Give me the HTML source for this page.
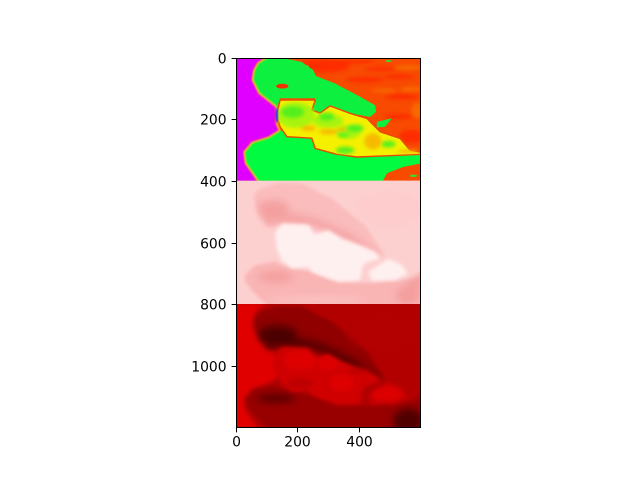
<!DOCTYPE html>
<html>
<head>
<meta charset="utf-8">
<style>
html,body{margin:0;padding:0;background:#fff;width:640px;height:480px;overflow:hidden}
svg{display:block}
text{font-family:"DejaVu Sans","Liberation Sans",sans-serif;font-size:13.9px;fill:#000}
</style>
</head>
<body>
<svg id="chart" width="640" height="480" viewBox="0 0 640 480" xmlns="http://www.w3.org/2000/svg">
<defs>
<clipPath id="clip-top"><rect x="236" y="58" width="184.5" height="122.7"/></clipPath>
<clipPath id="clip-mid"><rect x="236" y="180.7" width="184.5" height="123.3"/></clipPath>
<clipPath id="clip-bot"><rect x="236" y="304" width="184.5" height="123.5"/></clipPath>
<filter id="blur-crisp" x="-10%" y="-10%" width="120%" height="120%"><feGaussianBlur stdDeviation="0.35"/></filter>
<filter id="blur-sharp" x="-10%" y="-10%" width="120%" height="120%"><feGaussianBlur stdDeviation="0.8"/></filter>
<filter id="blur-soft" x="-20%" y="-20%" width="140%" height="140%"><feGaussianBlur stdDeviation="1.8"/></filter>
<filter id="blur-wide" x="-30%" y="-30%" width="160%" height="160%"><feGaussianBlur stdDeviation="3.8"/></filter>
</defs>
<rect width="640" height="480" fill="#fff"/>
<g id="image"></g>
<g id="axes"></g>
</svg>
<script>
// Axis tick values
const xTicks = [0, 200, 400];
const yTicks = [0, 200, 400, 600, 800, 1000];

// Regions in image pixel coordinates; mouth regions are relative to the panel top
const faceEdge = [[-5,-5],[100,-5],[70,15],[57,39],[52,71],[74,115],[128,158],[128,207],[139,234],[106,255],[52,272],[25,304],[30,342],[74,405],[-5,405]];
const upperLip = [[57,51],[74,26],[138,4],[214,6],[312,56],[420,143],[485,245],[398,205],[301,154],[247,141],[144,137],[106,148],[74,110]];
const lipShadow = [[74,105],[160,94],[268,121],[376,170],[485,251],[398,213],[322,186],[247,148],[138,137],[106,148]];
const lowerLip = [[30,305],[63,273],[128,260],[149,273],[247,294],[333,327],[441,329],[571,318],[605,289],[605,405],[106,405],[57,359],[32,327]];
const teethMain = [[128,164],[151,137],[236,141],[255,173],[301,159],[344,186],[398,206],[452,229],[468,251],[420,264],[409,283],[404,321],[333,325],[290,311],[247,294],[236,278],[182,283],[149,256],[133,219]];
const teethRight = [[431,294],[496,251],[539,273],[558,300],[517,321],[441,322]];

const greenUpper = [[-5,-5],[128,-5],[214,12],[252,39],[260,58],[322,82],[404,125],[452,153],[456,174],[436,191],[371,179],[306,155],[274,190],[240,180],[258,130],[144,130],[128,180],[-5,180]];
const greenLower = [[-5,234],[139,234],[250,245],[300,300],[485,312],[600,310],[605,341],[544,353],[491,374],[474,405],[-5,405]];
const greenIsland = [[458,207],[507,195],[485,223],[458,225]];
const centralRegion = [[144,136],[258,136],[247,169],[274,178],[306,155],[371,179],[426,196],[469,239],[534,261],[566,299],[605,306],[605,312],[491,317],[393,321],[328,312],[258,293],[247,260],[166,255],[144,223],[133,185]];

// Ellipses: centre x, centre y, radius x, radius y
const hotPatches = [[280,25,90,22],[420,70,60,9],[540,125,55,9],[470,35,50,7],[570,255,40,22],[530,60,50,7],[390,10,60,6],[530,190,50,8]];
const warmPatches = [[560,30,45,8],[570,100,35,8],[480,105,40,6],[590,170,20,25]];
const redIsland = [[151,91,20,8]];
const limePatches = [[195,185,62,42],[300,205,50,22],[365,240,40,22]];
const greenPatches = [[185,175,38,20],[295,190,27,14],[387,228,28,13],[349,250,20,8],[355,299,30,12],[495,279,24,11]];
const orangePatches = [[236,228,24,9],[301,239,30,9],[344,232,15,6],[445,270,28,26],[560,303,35,6]];
const smallGreen = [[577,382,12,4],[496,9,10,3],[225,26,12,4]];
const blueEdge = [[133,185,4,25]];

const midDark = [[120,85,50,25],[560,370,40,30],[130,310,55,18],[590,330,35,15]];
const midLight = [[260,385,170,10],[500,90,110,60]];
const botDark = [[135,95,62,28],[560,378,50,42],[130,305,65,12]];
const botMid = [[480,90,120,60]];
const botBright = [[210,180,52,32],[345,255,38,28],[300,190,32,22],[490,290,48,22]];
const botDim = [[210,255,45,18],[400,215,35,12]];

const panelTop = 58, pxPerUnit = 369.6 / 1200, axesLeft = 235.6;
const xScale = v => axesLeft + (v + 0.5) * pxPerUnit;
const yScale = v => panelTop + (v + 0.5) * pxPerUnit;
const NS = 'http://www.w3.org/2000/svg';
const imageGroup = document.getElementById('image');
const axesGroup = document.getElementById('axes');

function make(tag, attrs, parent) {
  const el = document.createElementNS(NS, tag);
  for (const k in attrs) el.setAttribute(k, attrs[k]);
  parent.appendChild(el);
  return el;
}
function layer(name, filter, clip) {
  const outer = make('g', {'clip-path': 'url(#' + clip + ')'}, imageGroup);
  const g = make('g', {filter: 'url(#' + filter + ')'}, outer);
  
  
  return g;
}
function poly(parent, pts, offset, fill, stroke, sw, opacity) {
  const p = pts.map(q => xScale(q[0]).toFixed(1) + ',' + yScale(q[1] + offset).toFixed(1)).join(' ');
  const el = make('polygon', {points: p, fill: fill}, parent);
  if (stroke) { el.setAttribute('stroke', stroke); el.setAttribute('stroke-width', sw); el.setAttribute('stroke-linejoin', 'round'); }
  if (opacity) el.setAttribute('opacity', opacity);
  
  
  return el;
}
function blobs(parent, list, offset, fill, opacity) {
  list.forEach(b => {
    const el = make('ellipse', {
      cx: xScale(b[0]), cy: yScale(b[1] + offset),
      rx: b[2] * pxPerUnit, ry: b[3] * pxPerUnit,
      fill: fill, opacity: opacity
    }, parent);
    
    
  });
}
function panelBackground(offset, fill, clip) {
  const outer = make('g', {'clip-path': 'url(#' + clip + ')'}, imageGroup);
  const el = make('rect', {x: 230, y: yScale(offset) - 5, width: 200, height: 135, fill: fill}, outer);
  
  
}

// Top panel: false-colour map
panelBackground(0, '#f84a00', 'clip-top');
const topSoft = layer('top-panel-heat', 'blur-soft', 'clip-top');
blobs(topSoft, hotPatches, 0, '#ff2400', 0.8);
blobs(topSoft, warmPatches, 0, '#f87000', 0.8);
const topEdges = layer('top-panel-regions', 'blur-crisp', 'clip-top');
poly(topEdges, greenUpper, 0, '#10f040');
poly(topEdges, greenLower, 0, '#00fb40');
poly(topEdges, greenIsland, 0, '#10f040');
blobs(topEdges, redIsland, 0, '#f03000', 1);
blobs(topEdges, smallGreen, 0, '#30e030', 1);
poly(topEdges, centralRegion, 0, '#f4f000', '#e84800', 1.4);
const topInner = layer('top-panel-central-detail', 'blur-soft', 'clip-top');
blobs(topInner, limePatches, 0, '#a4f410', 0.95);
blobs(topInner, greenPatches, 0, '#50f020', 0.95);
blobs(topInner, orangePatches, 0, '#f8b000', 0.85);
const topFront = layer('top-panel-left-region', 'blur-sharp', 'clip-top');
poly(topFront, faceEdge, 0, '#e000ff', '#ffe000', 3.2);
poly(topFront, faceEdge, 0, '#e000ff', '#f02030', 1.2);
blobs(topFront, blueEdge, 0, '#1030ff', 1);

// Middle panel: light red rendering
panelBackground(400, '#fdd0d0', 'clip-mid');
const midLips = layer('middle-panel-lips', 'blur-soft', 'clip-mid');
poly(midLips, upperLip, 400, '#fabcbc');
poly(midLips, lowerLip, 400, '#f9b4b4');
const midSoft = layer('middle-panel-shading', 'blur-wide', 'clip-mid');
poly(midSoft, lipShadow, 400, '#f29090', null, 0, 0.5);
blobs(midSoft, midDark, 400, '#f29090', 0.6);
blobs(midSoft, midLight, 400, '#fdcaca', 0.7);
const midTeeth = layer('middle-panel-teeth', 'blur-soft', 'clip-mid');
poly(midTeeth, teethMain, 400, '#fff0f0');
poly(midTeeth, teethRight, 400, '#fff0f0');

// Bottom panel: dark red rendering
panelBackground(800, '#b20000', 'clip-bot');
const botSoft = layer('bottom-panel-shading', 'blur-soft', 'clip-bot');
poly(botSoft, faceEdge, 800, '#e00000');
poly(botSoft, upperLip, 800, '#900000');
poly(botSoft, lowerLip, 800, '#980000');
const botShade = layer('bottom-panel-shadows', 'blur-wide', 'clip-bot');
poly(botShade, lipShadow, 800, '#4a0000', null, 0, 0.75);
blobs(botShade, botDark, 800, '#400000', 0.8);
blobs(botShade, botMid, 800, '#b40000', 0.7);
const botTeeth = layer('bottom-panel-teeth', 'blur-soft', 'clip-bot');
poly(botTeeth, teethMain, 800, '#d00000');
poly(botTeeth, teethRight, 800, '#cc0000');
blobs(botTeeth, botBright, 800, '#e40000', 0.7);
blobs(botTeeth, botDim, 800, '#b80000', 0.7);

// Frame, ticks and labels
const frame = make('rect', {x: 236.5, y: 58.5, width: 184, height: 369, fill: 'none', stroke: '#000', 'stroke-width': 1}, axesGroup);



xTicks.forEach(v => {
  const x = Math.round(xScale(v)) + 0.5;
  const tick = make('line', {x1: x, x2: x, y1: 427.5, y2: 432.4, stroke: '#000', 'stroke-width': 1}, axesGroup);
  
  
  const label = make('text', {x: x, y: 446.5, 'text-anchor': 'middle'}, axesGroup);
  label.textContent = v;
  
  
});
yTicks.forEach(v => {
  const y = Math.floor(yScale(v) + 0.1) + 0.5;
  const tick = make('line', {x1: 231.6, x2: 236.5, y1: y, y2: y, stroke: '#000', 'stroke-width': 1}, axesGroup);
  
  
  const label = make('text', {x: 226.6, y: y + 5, 'text-anchor': 'end'}, axesGroup);
  label.textContent = v;
  
  
});
</script>
</body>
</html>
